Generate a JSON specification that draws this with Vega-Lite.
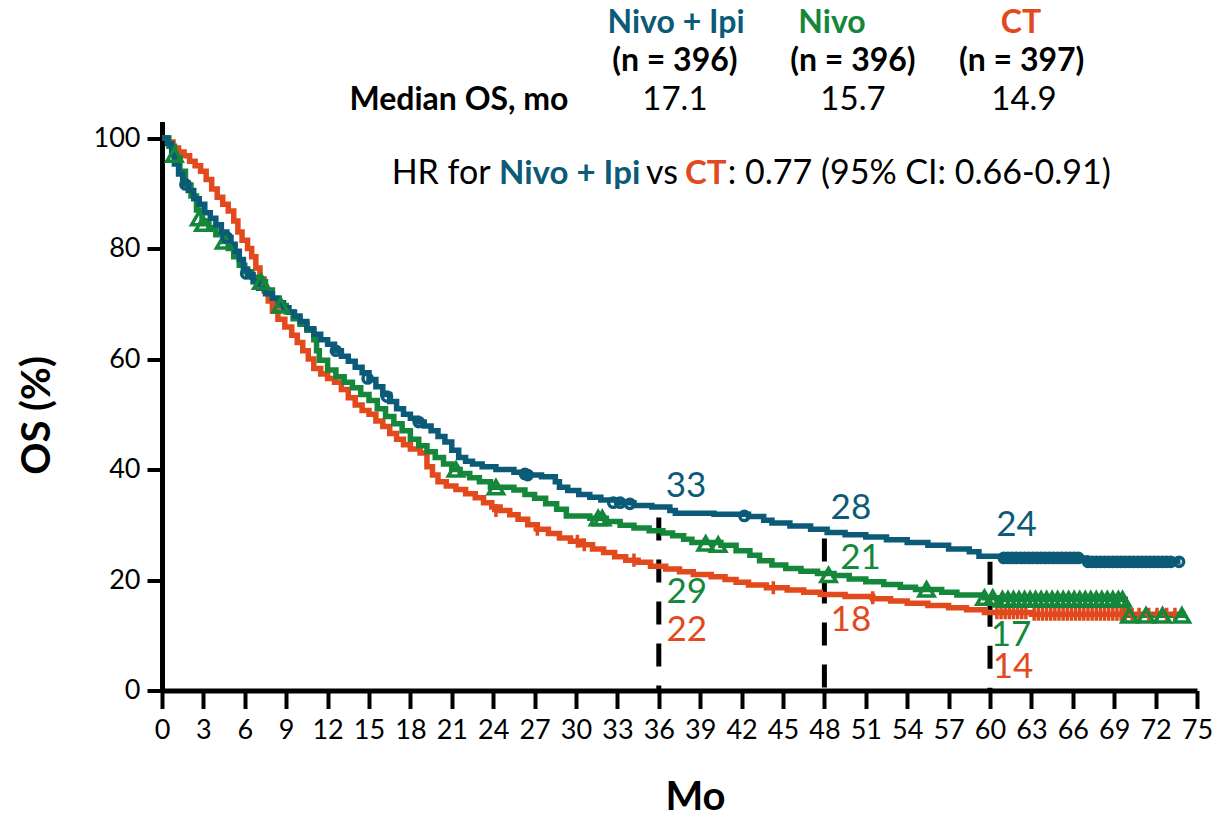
{
  "$schema": "https://vega.github.io/schema/vega-lite/v6.json",
  "width": 1035,
  "height": 569,
  "autosize": {"type": "none"},
  "padding": {"left": 162, "top": 121.5, "right": 18, "bottom": 127.5},
  "background": "white",
  "config": {
    "font": "Lato",
    "view": {"stroke": null},
    "axis": {"grid": false}
  },
  "datasets": {
    "curves": [
      {"arm":"CT","t":0,"s":100},{"arm":"CT","t":0.4,"s":99.3},{"arm":"CT","t":0.8,"s":98.2},{"arm":"CT","t":1.2,"s":97.5},{"arm":"CT","t":1.6,"s":96.8},{"arm":"CT","t":2.0,"s":95.8},{"arm":"CT","t":2.4,"s":95},{"arm":"CT","t":2.8,"s":94},{"arm":"CT","t":3.2,"s":92.5},{"arm":"CT","t":3.6,"s":90.8},{"arm":"CT","t":4.0,"s":89.3},{"arm":"CT","t":4.4,"s":88},{"arm":"CT","t":4.8,"s":86.8},{"arm":"CT","t":5.2,"s":85},{"arm":"CT","t":5.5,"s":83},{"arm":"CT","t":5.8,"s":81.5},{"arm":"CT","t":6.2,"s":80},{"arm":"CT","t":6.5,"s":78.5},{"arm":"CT","t":6.8,"s":76.5},{"arm":"CT","t":7.1,"s":74.5},{"arm":"CT","t":7.4,"s":72.3},{"arm":"CT","t":7.7,"s":70.5},{"arm":"CT","t":8.0,"s":68.7},{"arm":"CT","t":8.4,"s":67.2},{"arm":"CT","t":8.9,"s":65.8},{"arm":"CT","t":9.4,"s":64.3},{"arm":"CT","t":9.8,"s":63},{"arm":"CT","t":10.2,"s":61.5},{"arm":"CT","t":10.6,"s":60},{"arm":"CT","t":11.0,"s":58.3},{"arm":"CT","t":11.5,"s":57.3},{"arm":"CT","t":12.0,"s":56.5},{"arm":"CT","t":12.5,"s":55.8},{"arm":"CT","t":13.0,"s":54.5},{"arm":"CT","t":13.5,"s":53},{"arm":"CT","t":14.0,"s":51.7},{"arm":"CT","t":14.5,"s":50.7},{"arm":"CT","t":15.0,"s":50},{"arm":"CT","t":15.5,"s":48.8},{"arm":"CT","t":16.0,"s":47.8},{"arm":"CT","t":16.5,"s":46.5},{"arm":"CT","t":17.0,"s":45.5},{"arm":"CT","t":17.5,"s":44.5},{"arm":"CT","t":18.0,"s":43.7},{"arm":"CT","t":18.7,"s":43},{"arm":"CT","t":19.2,"s":40.5},{"arm":"CT","t":19.6,"s":39},{"arm":"CT","t":20.0,"s":37.8},{"arm":"CT","t":20.6,"s":37},{"arm":"CT","t":21.3,"s":36.4},{"arm":"CT","t":22.0,"s":35.6},{"arm":"CT","t":22.7,"s":34.9},{"arm":"CT","t":23.3,"s":34},{"arm":"CT","t":23.9,"s":33.2},{"arm":"CT","t":24.5,"s":32.6},{"arm":"CT","t":25.2,"s":31.8},{"arm":"CT","t":25.8,"s":31},{"arm":"CT","t":26.5,"s":30},{"arm":"CT","t":27.2,"s":29.2},{"arm":"CT","t":28.0,"s":28.4},{"arm":"CT","t":28.8,"s":27.6},{"arm":"CT","t":29.6,"s":27},{"arm":"CT","t":30.4,"s":26.4},{"arm":"CT","t":31.2,"s":25.6},{"arm":"CT","t":32.0,"s":25},{"arm":"CT","t":32.8,"s":24.2},{"arm":"CT","t":33.6,"s":23.6},{"arm":"CT","t":34.5,"s":23.2},{"arm":"CT","t":35.4,"s":22.5},{"arm":"CT","t":36.5,"s":22},{"arm":"CT","t":37.5,"s":21.5},{"arm":"CT","t":38.5,"s":21.0},{"arm":"CT","t":39.8,"s":20.6},{"arm":"CT","t":40.8,"s":20.1},{"arm":"CT","t":41.6,"s":19.6},{"arm":"CT","t":42.5,"s":19.1},{"arm":"CT","t":43.8,"s":18.6},{"arm":"CT","t":45.3,"s":18.2},{"arm":"CT","t":46.5,"s":17.8},{"arm":"CT","t":47.7,"s":17.4},{"arm":"CT","t":49.5,"s":17.0},{"arm":"CT","t":51.5,"s":16.6},{"arm":"CT","t":52.8,"s":16.2},{"arm":"CT","t":54.0,"s":15.8},{"arm":"CT","t":55.5,"s":15.4},{"arm":"CT","t":57.0,"s":15.0},{"arm":"CT","t":58.3,"s":14.6},{"arm":"CT","t":59.6,"s":14.1},{"arm":"CT","t":63.0,"s":13.8},{"arm":"CT","t":74.2,"s":13.8},
      {"arm":"Nivo","t":0,"s":100},{"arm":"Nivo","t":0.5,"s":98.5},{"arm":"Nivo","t":0.9,"s":96.5},{"arm":"Nivo","t":1.3,"s":94},{"arm":"Nivo","t":1.7,"s":91.5},{"arm":"Nivo","t":2.1,"s":89.5},{"arm":"Nivo","t":2.5,"s":87},{"arm":"Nivo","t":2.9,"s":85},{"arm":"Nivo","t":3.4,"s":83.8},{"arm":"Nivo","t":3.9,"s":82.5},{"arm":"Nivo","t":4.4,"s":81.3},{"arm":"Nivo","t":4.8,"s":80},{"arm":"Nivo","t":5.2,"s":78.5},{"arm":"Nivo","t":5.6,"s":77},{"arm":"Nivo","t":6.0,"s":75.8},{"arm":"Nivo","t":6.5,"s":74.8},{"arm":"Nivo","t":7.0,"s":74},{"arm":"Nivo","t":7.5,"s":72.5},{"arm":"Nivo","t":8.0,"s":71},{"arm":"Nivo","t":8.5,"s":69.7},{"arm":"Nivo","t":9.0,"s":68.5},{"arm":"Nivo","t":9.5,"s":67.3},{"arm":"Nivo","t":10.0,"s":66.3},{"arm":"Nivo","t":10.5,"s":65.2},{"arm":"Nivo","t":11.0,"s":63.5},{"arm":"Nivo","t":11.2,"s":61.5},{"arm":"Nivo","t":11.4,"s":59.8},{"arm":"Nivo","t":12.0,"s":58},{"arm":"Nivo","t":12.6,"s":56.8},{"arm":"Nivo","t":13.2,"s":55.8},{"arm":"Nivo","t":13.8,"s":54.8},{"arm":"Nivo","t":14.4,"s":53.6},{"arm":"Nivo","t":15.0,"s":52.5},{"arm":"Nivo","t":15.6,"s":51},{"arm":"Nivo","t":16.2,"s":49.6},{"arm":"Nivo","t":16.8,"s":48.3},{"arm":"Nivo","t":17.4,"s":47},{"arm":"Nivo","t":18.0,"s":45.5},{"arm":"Nivo","t":18.6,"s":44.3},{"arm":"Nivo","t":19.2,"s":43.2},{"arm":"Nivo","t":19.8,"s":42.2},{"arm":"Nivo","t":20.4,"s":41},{"arm":"Nivo","t":21.0,"s":40},{"arm":"Nivo","t":21.6,"s":39.3},{"arm":"Nivo","t":22.3,"s":38.5},{"arm":"Nivo","t":23.0,"s":37.8},{"arm":"Nivo","t":23.8,"s":36.8},{"arm":"Nivo","t":25.5,"s":36.3},{"arm":"Nivo","t":26.3,"s":35.5},{"arm":"Nivo","t":27.0,"s":34.8},{"arm":"Nivo","t":27.8,"s":33.8},{"arm":"Nivo","t":28.6,"s":32.8},{"arm":"Nivo","t":29.3,"s":31.6},{"arm":"Nivo","t":31.0,"s":31.2},{"arm":"Nivo","t":32.2,"s":30.6},{"arm":"Nivo","t":33.2,"s":29.9},{"arm":"Nivo","t":34.2,"s":29.4},{"arm":"Nivo","t":35.3,"s":28.9},{"arm":"Nivo","t":36.3,"s":28.5},{"arm":"Nivo","t":37.0,"s":28.0},{"arm":"Nivo","t":37.8,"s":27.4},{"arm":"Nivo","t":38.4,"s":26.8},{"arm":"Nivo","t":40.5,"s":26.3},{"arm":"Nivo","t":41.6,"s":25.3},{"arm":"Nivo","t":42.6,"s":24.5},{"arm":"Nivo","t":43.3,"s":23.5},{"arm":"Nivo","t":44.2,"s":22.7},{"arm":"Nivo","t":45.2,"s":22.1},{"arm":"Nivo","t":46.3,"s":21.6},{"arm":"Nivo","t":47.5,"s":21.2},{"arm":"Nivo","t":48.7,"s":20.8},{"arm":"Nivo","t":49.8,"s":20.2},{"arm":"Nivo","t":51.0,"s":19.7},{"arm":"Nivo","t":52.3,"s":19.2},{"arm":"Nivo","t":53.5,"s":18.7},{"arm":"Nivo","t":54.6,"s":18.3},{"arm":"Nivo","t":56.5,"s":17.8},{"arm":"Nivo","t":57.6,"s":17.3},{"arm":"Nivo","t":59.6,"s":16.8},{"arm":"Nivo","t":60.5,"s":16.5},{"arm":"Nivo","t":69.8,"s":13.6},{"arm":"Nivo","t":74.2,"s":13.6},
      {"arm":"Nivo + Ipi","t":0,"s":100},{"arm":"Nivo + Ipi","t":0.4,"s":99},{"arm":"Nivo + Ipi","t":0.7,"s":97},{"arm":"Nivo + Ipi","t":0.9,"s":95.3},{"arm":"Nivo + Ipi","t":1.2,"s":93.5},{"arm":"Nivo + Ipi","t":1.5,"s":91.8},{"arm":"Nivo + Ipi","t":1.9,"s":90.5},{"arm":"Nivo + Ipi","t":2.3,"s":89},{"arm":"Nivo + Ipi","t":2.7,"s":88},{"arm":"Nivo + Ipi","t":3.1,"s":86.5},{"arm":"Nivo + Ipi","t":3.5,"s":85.5},{"arm":"Nivo + Ipi","t":3.9,"s":84.3},{"arm":"Nivo + Ipi","t":4.3,"s":83},{"arm":"Nivo + Ipi","t":4.7,"s":82},{"arm":"Nivo + Ipi","t":5.0,"s":80.8},{"arm":"Nivo + Ipi","t":5.3,"s":79.5},{"arm":"Nivo + Ipi","t":5.6,"s":78},{"arm":"Nivo + Ipi","t":5.9,"s":76.3},{"arm":"Nivo + Ipi","t":6.2,"s":75.3},{"arm":"Nivo + Ipi","t":6.6,"s":74},{"arm":"Nivo + Ipi","t":7.0,"s":72.8},{"arm":"Nivo + Ipi","t":7.5,"s":71.8},{"arm":"Nivo + Ipi","t":8.0,"s":71},{"arm":"Nivo + Ipi","t":8.4,"s":70.2},{"arm":"Nivo + Ipi","t":8.8,"s":69.3},{"arm":"Nivo + Ipi","t":9.2,"s":68.5},{"arm":"Nivo + Ipi","t":9.6,"s":67.8},{"arm":"Nivo + Ipi","t":10.0,"s":66.8},{"arm":"Nivo + Ipi","t":10.5,"s":65.5},{"arm":"Nivo + Ipi","t":11.0,"s":64.5},{"arm":"Nivo + Ipi","t":11.5,"s":63.5},{"arm":"Nivo + Ipi","t":12.0,"s":62.7},{"arm":"Nivo + Ipi","t":12.5,"s":61.5},{"arm":"Nivo + Ipi","t":13.0,"s":60.5},{"arm":"Nivo + Ipi","t":13.5,"s":59.6},{"arm":"Nivo + Ipi","t":14.0,"s":58.5},{"arm":"Nivo + Ipi","t":14.5,"s":57.5},{"arm":"Nivo + Ipi","t":15.0,"s":56.3},{"arm":"Nivo + Ipi","t":15.5,"s":55},{"arm":"Nivo + Ipi","t":16.0,"s":53.6},{"arm":"Nivo + Ipi","t":16.5,"s":52.3},{"arm":"Nivo + Ipi","t":17.0,"s":51},{"arm":"Nivo + Ipi","t":17.5,"s":50},{"arm":"Nivo + Ipi","t":18.0,"s":49.3},{"arm":"Nivo + Ipi","t":18.5,"s":48.6},{"arm":"Nivo + Ipi","t":19.0,"s":47.9},{"arm":"Nivo + Ipi","t":19.5,"s":47},{"arm":"Nivo + Ipi","t":20.0,"s":46},{"arm":"Nivo + Ipi","t":20.5,"s":45},{"arm":"Nivo + Ipi","t":21.0,"s":43.5},{"arm":"Nivo + Ipi","t":21.5,"s":42.2},{"arm":"Nivo + Ipi","t":22.0,"s":41.5},{"arm":"Nivo + Ipi","t":22.5,"s":41},{"arm":"Nivo + Ipi","t":23.2,"s":40.5},{"arm":"Nivo + Ipi","t":24.2,"s":40},{"arm":"Nivo + Ipi","t":25.5,"s":39.5},{"arm":"Nivo + Ipi","t":26.5,"s":39},{"arm":"Nivo + Ipi","t":27.5,"s":38.7},{"arm":"Nivo + Ipi","t":28.5,"s":37.8},{"arm":"Nivo + Ipi","t":28.8,"s":36.8},{"arm":"Nivo + Ipi","t":29.4,"s":36.2},{"arm":"Nivo + Ipi","t":30.2,"s":35.5},{"arm":"Nivo + Ipi","t":31.0,"s":35},{"arm":"Nivo + Ipi","t":31.8,"s":34.5},{"arm":"Nivo + Ipi","t":33.0,"s":34},{"arm":"Nivo + Ipi","t":34.2,"s":33.5},{"arm":"Nivo + Ipi","t":35.5,"s":33.2},{"arm":"Nivo + Ipi","t":36.8,"s":32.6},{"arm":"Nivo + Ipi","t":37.2,"s":32.1},{"arm":"Nivo + Ipi","t":40.0,"s":31.9},{"arm":"Nivo + Ipi","t":42.5,"s":31.5},{"arm":"Nivo + Ipi","t":43.6,"s":30.8},{"arm":"Nivo + Ipi","t":44.2,"s":30.3},{"arm":"Nivo + Ipi","t":45.5,"s":29.8},{"arm":"Nivo + Ipi","t":47.0,"s":29.2},{"arm":"Nivo + Ipi","t":48.2,"s":28.6},{"arm":"Nivo + Ipi","t":49.5,"s":28.2},{"arm":"Nivo + Ipi","t":51.0,"s":27.8},{"arm":"Nivo + Ipi","t":52.5,"s":27.3},{"arm":"Nivo + Ipi","t":54.0,"s":26.8},{"arm":"Nivo + Ipi","t":55.5,"s":26.3},{"arm":"Nivo + Ipi","t":57.0,"s":25.6},{"arm":"Nivo + Ipi","t":58.5,"s":25.1},{"arm":"Nivo + Ipi","t":59.2,"s":24.3},{"arm":"Nivo + Ipi","t":60.8,"s":24.0},{"arm":"Nivo + Ipi","t":67.0,"s":23.3},{"arm":"Nivo + Ipi","t":73.8,"s":23.3}
    ],
    "censor": [
      {"arm":"Nivo + Ipi","t":1.7,"s":91.6},{"arm":"Nivo + Ipi","t":4.7,"s":82},{"arm":"Nivo + Ipi","t":6.1,"s":75.5},{"arm":"Nivo + Ipi","t":12.6,"s":61.5},{"arm":"Nivo + Ipi","t":14.9,"s":56.5},{"arm":"Nivo + Ipi","t":16.3,"s":53.2},{"arm":"Nivo + Ipi","t":18.6,"s":48.6},{"arm":"Nivo + Ipi","t":26.3,"s":39.2},{"arm":"Nivo + Ipi","t":26.5,"s":39},{"arm":"Nivo + Ipi","t":32.7,"s":34},{"arm":"Nivo + Ipi","t":33.2,"s":34},{"arm":"Nivo + Ipi","t":33.9,"s":33.8},{"arm":"Nivo + Ipi","t":42.2,"s":31.6},
      {"arm":"Nivo + Ipi","t":61.0,"s":24},{"arm":"Nivo + Ipi","t":61.3,"s":24},{"arm":"Nivo + Ipi","t":61.6,"s":24},{"arm":"Nivo + Ipi","t":61.9,"s":24},{"arm":"Nivo + Ipi","t":62.2,"s":24},{"arm":"Nivo + Ipi","t":62.5,"s":24},{"arm":"Nivo + Ipi","t":62.8,"s":24},{"arm":"Nivo + Ipi","t":63.1,"s":24},{"arm":"Nivo + Ipi","t":63.4,"s":24},{"arm":"Nivo + Ipi","t":63.7,"s":24},{"arm":"Nivo + Ipi","t":64.0,"s":24},{"arm":"Nivo + Ipi","t":64.3,"s":24},{"arm":"Nivo + Ipi","t":64.6,"s":24},{"arm":"Nivo + Ipi","t":64.9,"s":24},{"arm":"Nivo + Ipi","t":65.2,"s":24},{"arm":"Nivo + Ipi","t":65.5,"s":24},{"arm":"Nivo + Ipi","t":65.8,"s":24},{"arm":"Nivo + Ipi","t":66.1,"s":24},{"arm":"Nivo + Ipi","t":66.4,"s":24},
      {"arm":"Nivo + Ipi","t":67.1,"s":23.3},{"arm":"Nivo + Ipi","t":67.4,"s":23.3},{"arm":"Nivo + Ipi","t":67.7,"s":23.3},{"arm":"Nivo + Ipi","t":68.0,"s":23.3},{"arm":"Nivo + Ipi","t":68.3,"s":23.3},{"arm":"Nivo + Ipi","t":68.6,"s":23.3},{"arm":"Nivo + Ipi","t":68.9,"s":23.3},{"arm":"Nivo + Ipi","t":69.2,"s":23.3},{"arm":"Nivo + Ipi","t":69.5,"s":23.3},{"arm":"Nivo + Ipi","t":69.8,"s":23.3},{"arm":"Nivo + Ipi","t":70.1,"s":23.3},{"arm":"Nivo + Ipi","t":70.4,"s":23.3},{"arm":"Nivo + Ipi","t":70.7,"s":23.3},{"arm":"Nivo + Ipi","t":71.0,"s":23.3},{"arm":"Nivo + Ipi","t":71.3,"s":23.3},{"arm":"Nivo + Ipi","t":71.6,"s":23.3},{"arm":"Nivo + Ipi","t":71.9,"s":23.3},{"arm":"Nivo + Ipi","t":72.2,"s":23.3},{"arm":"Nivo + Ipi","t":72.5,"s":23.3},{"arm":"Nivo + Ipi","t":72.8,"s":23.3},{"arm":"Nivo + Ipi","t":73.1,"s":23.3},{"arm":"Nivo + Ipi","t":73.7,"s":23.3},
      {"arm":"Nivo","t":0.9,"s":97},{"arm":"Nivo","t":2.7,"s":85.5},{"arm":"Nivo","t":3.0,"s":84.5},{"arm":"Nivo","t":4.5,"s":81.3},{"arm":"Nivo","t":7.2,"s":74},{"arm":"Nivo","t":8.6,"s":69.7},{"arm":"Nivo","t":21.3,"s":40},{"arm":"Nivo","t":24.2,"s":36.8},{"arm":"Nivo","t":31.6,"s":31.2},{"arm":"Nivo","t":31.9,"s":31.2},{"arm":"Nivo","t":39.4,"s":26.6},{"arm":"Nivo","t":40.3,"s":26.4},{"arm":"Nivo","t":48.3,"s":20.9},{"arm":"Nivo","t":55.4,"s":18.3},
      {"arm":"Nivo","t":59.6,"s":16.8},{"arm":"Nivo","t":60.2,"s":16.8},{"arm":"Nivo","t":60.9,"s":16.5},{"arm":"Nivo","t":61.3,"s":16.5},{"arm":"Nivo","t":61.7,"s":16.5},{"arm":"Nivo","t":62.1,"s":16.5},{"arm":"Nivo","t":62.5,"s":16.5},{"arm":"Nivo","t":62.9,"s":16.5},{"arm":"Nivo","t":63.3,"s":16.5},{"arm":"Nivo","t":63.7,"s":16.5},{"arm":"Nivo","t":64.1,"s":16.5},{"arm":"Nivo","t":64.5,"s":16.5},{"arm":"Nivo","t":64.9,"s":16.5},{"arm":"Nivo","t":65.3,"s":16.5},{"arm":"Nivo","t":65.7,"s":16.5},{"arm":"Nivo","t":66.1,"s":16.5},{"arm":"Nivo","t":66.5,"s":16.5},{"arm":"Nivo","t":66.9,"s":16.5},{"arm":"Nivo","t":67.3,"s":16.5},{"arm":"Nivo","t":67.7,"s":16.5},{"arm":"Nivo","t":68.1,"s":16.5},{"arm":"Nivo","t":68.5,"s":16.5},{"arm":"Nivo","t":68.9,"s":16.5},{"arm":"Nivo","t":69.3,"s":16.5},{"arm":"Nivo","t":69.6,"s":16.5},
      {"arm":"Nivo","t":70.1,"s":13.6},{"arm":"Nivo","t":71.3,"s":13.6},{"arm":"Nivo","t":72.5,"s":13.6},{"arm":"Nivo","t":73.9,"s":13.6},
      {"arm":"CT","t":24.2,"s":32.6},{"arm":"CT","t":27.2,"s":29.2},{"arm":"CT","t":30.1,"s":27},{"arm":"CT","t":30.6,"s":26.4},{"arm":"CT","t":34.2,"s":23.6},{"arm":"CT","t":44.3,"s":18.6},{"arm":"CT","t":51.5,"s":16.8},
      {"arm":"CT","t":60.5,"s":14.1},{"arm":"CT","t":60.8,"s":14.1},{"arm":"CT","t":61.1,"s":14.1},{"arm":"CT","t":61.4,"s":14.1},{"arm":"CT","t":61.7,"s":14.1},{"arm":"CT","t":62.0,"s":14.1},{"arm":"CT","t":62.3,"s":14.1},{"arm":"CT","t":62.6,"s":14.1},{"arm":"CT","t":63.2,"s":13.8},{"arm":"CT","t":63.5,"s":13.8},{"arm":"CT","t":63.8,"s":13.8},{"arm":"CT","t":64.1,"s":13.8},{"arm":"CT","t":64.4,"s":13.8},{"arm":"CT","t":64.7,"s":13.8},{"arm":"CT","t":65.0,"s":13.8},{"arm":"CT","t":65.3,"s":13.8},{"arm":"CT","t":65.6,"s":13.8},{"arm":"CT","t":65.9,"s":13.8},{"arm":"CT","t":66.2,"s":13.8},{"arm":"CT","t":66.5,"s":13.8},{"arm":"CT","t":66.8,"s":13.8},{"arm":"CT","t":67.1,"s":13.8},{"arm":"CT","t":67.4,"s":13.8},{"arm":"CT","t":67.7,"s":13.8},{"arm":"CT","t":68.0,"s":13.8},{"arm":"CT","t":68.3,"s":13.8},{"arm":"CT","t":68.6,"s":13.8},{"arm":"CT","t":68.9,"s":13.8},{"arm":"CT","t":69.2,"s":13.8},{"arm":"CT","t":69.5,"s":13.8},{"arm":"CT","t":69.8,"s":13.8},{"arm":"CT","t":70.3,"s":13.8},{"arm":"CT","t":70.8,"s":13.8},{"arm":"CT","t":71.5,"s":13.8},{"arm":"CT","t":72.1,"s":13.8},{"arm":"CT","t":72.8,"s":13.8},{"arm":"CT","t":73.4,"s":13.8}
    ],
    "landmarks": [{"t":36,"top":31.3},{"t":48,"top":27.5},{"t":60,"top":23.3}],
    "rates": [
      {"t":36.5,"s":37.1,"label":"33","arm":"Nivo + Ipi"},
      {"t":36.55,"s":17.8,"label":"29","arm":"Nivo"},
      {"t":36.55,"s":11.0,"label":"22","arm":"CT"},
      {"t":48.45,"s":33.1,"label":"28","arm":"Nivo + Ipi"},
      {"t":49.15,"s":23.9,"label":"21","arm":"Nivo"},
      {"t":48.45,"s":12.8,"label":"18","arm":"CT"},
      {"t":60.45,"s":29.95,"label":"24","arm":"Nivo + Ipi"},
      {"t":60.05,"s":10.0,"label":"17","arm":"Nivo"},
      {"t":60.2,"s":4.3,"label":"14","arm":"CT"}
    ],
    "armHeads": [
      {"t":37.25,"s":120.8,"label":"Nivo + Ipi","arm":"Nivo + Ipi"},
      {"t":48.55,"s":120.8,"label":"Nivo","arm":"Nivo"},
      {"t":62.25,"s":120.8,"label":"CT","arm":"CT"}
    ],
    "boldHeads": [
      {"t":37.17,"s":113.9,"label":"(n = 396)"},
      {"t":50.07,"s":113.9,"label":"(n = 396)"},
      {"t":62.3,"s":113.9,"label":"(n = 397)"},
      {"t":21.52,"s":106.9,"label":"Median OS, mo"}
    ],
    "medians": [
      {"t":37.17,"s":106.9,"label":"17.1"},
      {"t":50.07,"s":106.9,"label":"15.7"},
      {"t":62.46,"s":106.9,"label":"14.9"}
    ],
    "hrColored": [
      {"t":24.42,"s":93.5,"label":"Nivo + Ipi","arm":"Nivo + Ipi"},
      {"t":37.9,"s":93.5,"label":"CT","arm":"CT"}
    ],
    "hrPlain": [
      {"t":16.64,"s":93.5,"label":"HR for"},
      {"t":35.07,"s":93.5,"label":"vs"},
      {"t":41.0,"s":93.5,"label":": 0.77 (95% CI: 0.66-0.91)"}
    ]
  },
  "encoding": {
    "x": {
      "field": "t", "type": "quantitative",
      "scale": {"domain": [0, 75], "nice": false, "zero": false},
      "axis": {
        "values": [0,3,6,9,12,15,18,21,24,27,30,33,36,39,42,45,48,51,54,57,60,63,66,69,72,75],
        "domainColor": "black", "domainWidth": 5,
        "tickColor": "black", "tickWidth": 4, "tickSize": 18,
        "labelFontSize": 27, "labelColor": "black", "labelPadding": 9,
        "labelFlush": false, "labelOverlap": false,
        "title": "Mo", "titleFontSize": 40, "titleFontWeight": "bold", "titleColor": "black",
        "titleX": 533, "titleY": 107, "titleBaseline": "middle", "titleAlign": "center"
      }
    },
    "y": {
      "field": "s", "type": "quantitative",
      "scale": {"domain": [0, 103], "nice": false, "zero": false},
      "axis": {
        "values": [0,20,40,60,80,100],
        "domainColor": "black", "domainWidth": 5,
        "tickColor": "black", "tickWidth": 4, "tickSize": 15,
        "labelFontSize": 27, "labelColor": "black", "labelPadding": 7,
        "labelOverlap": false,
        "title": "OS (%)", "titleFontSize": 40, "titleFontWeight": "bold", "titleColor": "black",
        "titleAngle": 270, "titleX": -125, "titleY": 293.5, "titleBaseline": "middle", "titleAlign": "center"
      }
    }
  },
  "layer": [
    {
      "data": {"name": "landmarks"},
      "mark": {"type": "rule", "color": "black", "strokeWidth": 5, "strokeDash": [23, 19]},
      "encoding": {
        "x": {"field": "t", "type": "quantitative"},
        "y": {"field": "top", "type": "quantitative"},
        "y2": {"datum": 0}
      }
    },
    {
      "data": {"name": "curves"},
      "mark": {"type": "line", "interpolate": "step-after", "strokeWidth": 5.5, "strokeJoin": "miter"},
      "encoding": {
        "color": {
          "field": "arm", "type": "nominal",
          "scale": {"domain": ["Nivo + Ipi", "Nivo", "CT"], "range": ["#0B5B78", "#14873A", "#E2491D"]},
          "legend": null
        },
        "order": {"field": "t", "type": "quantitative"}
      }
    },
    {
      "data": {"name": "censor"},
      "transform": [{"filter": "datum.arm === 'CT'"}],
      "mark": {"type": "point", "shape": "M0,-1V1M-0.6,0H0.6", "filled": false, "size": 170, "strokeWidth": 3.5, "opacity": 1},
      "encoding": {
        "color": {"field": "arm", "type": "nominal", "legend": null}
      }
    },
    {
      "data": {"name": "censor"},
      "transform": [{"filter": "datum.arm === 'Nivo'"}],
      "mark": {"type": "point", "shape": "triangle-up", "filled": false, "size": 230, "strokeWidth": 3.5, "opacity": 1},
      "encoding": {
        "color": {"field": "arm", "type": "nominal", "legend": null}
      }
    },
    {
      "data": {"name": "censor"},
      "transform": [{"filter": "datum.arm === 'Nivo + Ipi'"}],
      "mark": {"type": "point", "shape": "circle", "filled": false, "size": 85, "strokeWidth": 3.5, "opacity": 1},
      "encoding": {
        "color": {"field": "arm", "type": "nominal", "legend": null}
      }
    },
    {
      "data": {"name": "rates"},
      "mark": {"type": "text", "align": "left", "baseline": "middle", "fontSize": 35},
      "encoding": {
        "text": {"field": "label"},
        "color": {"field": "arm", "type": "nominal", "legend": null}
      }
    },
    {
      "data": {"name": "armHeads"},
      "mark": {"type": "text", "align": "center", "baseline": "middle", "fontSize": 32, "fontWeight": "bold"},
      "encoding": {
        "text": {"field": "label"},
        "color": {"field": "arm", "type": "nominal", "legend": null}
      }
    },
    {
      "data": {"name": "boldHeads"},
      "mark": {"type": "text", "align": "center", "baseline": "middle", "fontSize": 32, "fontWeight": "bold", "color": "black"},
      "encoding": {"text": {"field": "label"}}
    },
    {
      "data": {"name": "medians"},
      "mark": {"type": "text", "align": "center", "baseline": "middle", "fontSize": 33, "color": "black"},
      "encoding": {"text": {"field": "label"}}
    },
    {
      "data": {"name": "hrColored"},
      "mark": {"type": "text", "align": "left", "baseline": "middle", "fontSize": 33, "fontWeight": "bold"},
      "encoding": {
        "text": {"field": "label"},
        "color": {"field": "arm", "type": "nominal", "legend": null}
      }
    },
    {
      "data": {"name": "hrPlain"},
      "mark": {"type": "text", "align": "left", "baseline": "middle", "fontSize": 34, "color": "black"},
      "encoding": {"text": {"field": "label"}}
    }
  ]
}
